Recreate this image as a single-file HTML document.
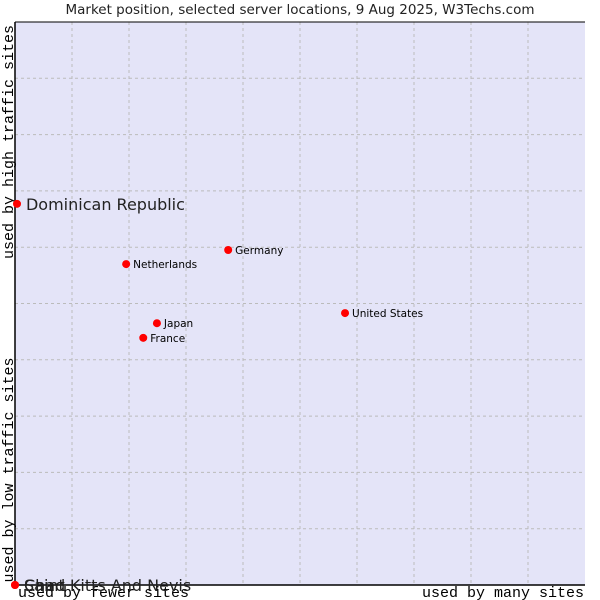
<!DOCTYPE html>
<html><head><meta charset="utf-8"><style>
body{margin:0;background:#fff;}
svg{display:block;}
</style></head><body>
<svg width="600" height="600" xmlns="http://www.w3.org/2000/svg">
<rect x="0" y="0" width="600" height="600" fill="#fff"/>
<text x="300" y="14" text-anchor="middle" font-family="DejaVu Sans, sans-serif" font-size="13.5" fill="#222">Market position, selected server locations, 9 Aug 2025, W3Techs.com</text>
<rect x="15" y="22" width="570" height="563" fill="#e4e4f8"/>
<g id="grid"></g>
<line x1="15" y1="22" x2="15" y2="585" stroke="#000" stroke-width="1.5"/>
<line x1="15" y1="585" x2="585" y2="585" stroke="#000" stroke-width="1.5"/>
<line x1="15" y1="22" x2="585" y2="22" stroke="#000" stroke-width="1"/>
<text transform="translate(13,142) rotate(-90)" text-anchor="middle" font-family="Liberation Mono, monospace" font-size="15" fill="#000">used by high traffic sites</text>
<text transform="translate(13,470) rotate(-90)" text-anchor="middle" font-family="Liberation Mono, monospace" font-size="15" fill="#000">used by low traffic sites</text>
<text x="18" y="597" font-family="Liberation Mono, monospace" font-size="15" fill="#000">used by fewer sites</text>
<text x="584" y="597" text-anchor="end" font-family="Liberation Mono, monospace" font-size="15" fill="#000">used by many sites</text>
<g id="points"></g>
</svg>
<script>
const names = ["Chad","Saint Kitts And Nevis","Dominican Republic","Netherlands","Germany","United States","Japan","France"];
const xValues = [0,0,0.35,19.5,37.4,57.9,24.9,22.5];
const yValues = [0,0,67.7,57.0,59.5,48.3,46.5,43.9];
const bigLabel = [true,true,true,false,false,false,false,false];
const gridTicks = [1,2,3,4,5,6,7,8,9];
const NS="http://www.w3.org/2000/svg";
const X0=15,X1=585,Y0=585,Y1=22;
function xs(v){return X0+(X1-X0)*v/100;}
function ys(v){return Y0-(Y0-Y1)*v/100;}
const grid=document.getElementById('grid');
gridTicks.forEach(t=>{
  const v=document.createElementNS(NS,'line');
  v.setAttribute('x1',xs(t*10));v.setAttribute('x2',xs(t*10));v.setAttribute('y1',Y1);v.setAttribute('y2',Y0);
  v.setAttribute('stroke','#bbb');v.setAttribute('stroke-dasharray','3,3');
  
  
  grid.appendChild(v);
  const h=document.createElementNS(NS,'line');
  h.setAttribute('y1',ys(t*10));h.setAttribute('y2',ys(t*10));h.setAttribute('x1',X0);h.setAttribute('x2',X1);
  h.setAttribute('stroke','#bbb');h.setAttribute('stroke-dasharray','3,3');
  
  
  grid.appendChild(h);
});
const pts=document.getElementById('points');
names.forEach((n,i)=>{
  const cx=xs(xValues[i]),cy=ys(yValues[i]);
  const c=document.createElementNS(NS,'circle');
  c.setAttribute('cx',cx);c.setAttribute('cy',cy);c.setAttribute('r',4);c.setAttribute('fill','#f00');
  
  
  pts.appendChild(c);
  const t=document.createElementNS(NS,'text');
  const big=bigLabel[i];
  t.setAttribute('x',cx+(big?9:7));t.setAttribute('y',cy+(big?6:4));
  t.setAttribute('font-family','DejaVu Sans, sans-serif');
  t.setAttribute('font-size',big?16:10.5);
  t.setAttribute('fill',big?'#222':'#000');
  t.textContent=n;
  
  
  pts.appendChild(t);
});
</script>
</body></html>
